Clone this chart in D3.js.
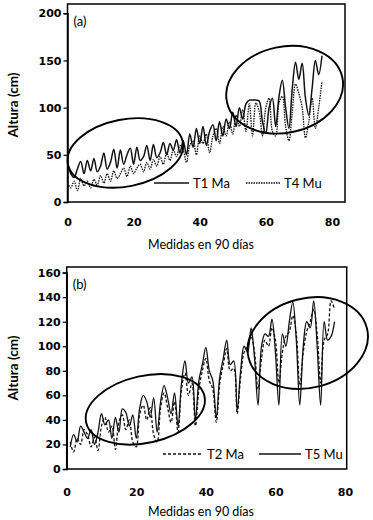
<!DOCTYPE html>
<html>
<head>
<meta charset="utf-8">
<script src="https://cdn.jsdelivr.net/npm/d3@7"></script>
<style>
  body { margin: 0; background: #fff; }
  svg { display: block; }
</style>
</head>
<body>
<div id="chart"></div>
<script>
// panel (a): measurement index 0..77
const aDays = d3.range(0, 78);
const aT1Ma = [43, 30, 26, 35, 43, 30, 44, 33, 46, 32, 38, 52, 35, 42, 56, 36, 55, 40, 50, 57,
  40, 58, 44, 48, 60, 44, 61, 47, 52, 63, 50, 62, 55, 66, 52, 65, 50, 72, 58, 78,
  62, 80, 60, 75, 82, 65, 85, 70, 88, 78, 95, 80, 100, 88, 104, 108, 108, 108, 107, 85,
  73, 100, 110, 80, 112, 129, 100, 78, 120, 148, 130, 147, 110, 92, 120, 150, 135, 155];
const aT4Mu = [20, 15, 22, 12, 25, 17, 22, 15, 24, 18, 28, 20, 30, 22, 33, 25, 30, 36, 27, 38,
  30, 36, 40, 32, 42, 35, 45, 38, 48, 40, 52, 44, 55, 48, 60, 55, 42, 60, 65, 50,
  70, 62, 72, 52, 70, 78, 62, 80, 70, 85, 72, 92, 80, 98, 75, 104, 70, 105, 96, 70,
  100, 110, 75, 70, 105, 112, 80, 65, 95, 125, 115, 100, 68, 85, 110, 78, 100, 128];

// panel (b): measurement index 1..77
const bDays = d3.range(1, 78);
const bT2Ma = [22, 14, 25, 20, 32, 28, 18, 26, 15, 35, 42, 30, 35, 16, 38, 44, 32, 40, 22, 18,
  45, 52, 40, 50, 28, 22, 50, 62, 50, 38, 55, 30, 65, 78, 60, 70, 35, 65, 80, 90,
  72, 65, 38, 70, 85, 98, 80, 82, 45, 75, 95, 100, 108, 95, 65, 90, 105, 100, 115, 105,
  70, 95, 108, 112, 125, 110, 68, 95, 112, 120, 130, 110, 70, 105, 110, 137, 130];
const bT5Mu = [18, 28, 22, 35, 30, 25, 32, 20, 30, 45, 36, 40, 25, 42, 30, 49, 46, 35, 44, 25,
  50, 60, 55, 42, 58, 30, 55, 68, 58, 45, 62, 35, 70, 88, 70, 75, 40, 72, 85, 99,
  80, 72, 42, 75, 90, 105, 85, 88, 48, 80, 100, 95, 115, 90, 52, 100, 110, 108, 122, 95,
  52, 110, 100, 120, 136, 105, 52, 100, 120, 115, 137, 100, 52, 120, 105, 108, 120];

const aTicksY = [0, 50, 100, 150, 200];
const bTicksY = [0, 20, 40, 60, 80, 100, 120, 140, 160];
const ticksX = [0, 20, 40, 60, 80];

// circled regions, centre in data units
const aRings = [{ x: 17.5, y: 52, rx: 58.5, ry: 33.5, rot: -11 }, { x: 65.7, y: 119, rx: 59, ry: 43, rot: -12 }];
const bRings = [{ x: 22.6, y: 48.6, rx: 60.6, ry: 33.5, rot: -12.7 }, { x: 69.3, y: 102.6, rx: 61, ry: 44.7, rot: -14.3 }];

const W = 373, H = 520;
const svg = d3.select("#chart").append("svg").attr("width", W).attr("height", H);

function drawPanel(p) {
    const g = svg.append("g");
    const x = d3.scaleLinear().domain([0, 80]).range(p.xr);
    const y = d3.scaleLinear().domain([0, p.yMax]).range(p.yr);

    // plot box
    g.append("rect")
        .attr("x", p.xr[0]).attr("y", p.boxTop)
        .attr("width", p.boxRight - p.xr[0]).attr("height", p.yr[0] - p.boxTop)
        .attr("fill", "none").attr("stroke", "#000").attr("stroke-width", 1.5);

    const yAxis = g.append("g")
        .attr("transform", `translate(${p.xr[0]},0)`)
        .call(d3.axisLeft(y).tickValues(p.yTicks).tickSize(4).tickPadding(2));
    yAxis.select(".domain").attr("stroke-width", 1.5);
    yAxis.selectAll("line").attr("stroke-width", 1.2);
    yAxis.selectAll("text")
        .style("font-family", "DejaVu Sans").style("font-weight", "bold").style("font-size", "11px");

    const xAxis = g.append("g")
        .attr("transform", `translate(0,${p.yr[0]})`)
        .call(d3.axisBottom(x).tickValues(ticksX).tickSize(0).tickPadding(p.xPad));
    xAxis.select(".domain").remove();
    xAxis.selectAll("text")
        .style("font-family", "DejaVu Sans").style("font-weight", "bold").style("font-size", "11px");

    const line = d3.line().x(d => x(d[0])).y(d => y(d[1])).curve(d3.curveCatmullRom.alpha(0.5));

    p.series.forEach(s => {
        g.append("path")
            .datum(p.days.map((d, i) => [d, s.values[i]]))
            .attr("d", line)
            .attr("fill", "none")
            .attr("stroke", "#111")
            .attr("stroke-width", s.width)
            .attr("stroke-dasharray", s.dash);
    });

    p.rings.forEach(r => {
        g.append("ellipse")
            .attr("cx", 0).attr("cy", 0)
            .attr("rx", r.rx).attr("ry", r.ry)
            .attr("transform", `translate(${x(r.x)},${y(r.y)}) rotate(${r.rot})`)
            .attr("fill", "none").attr("stroke", "#000").attr("stroke-width", 1.9);
    });

    // legend
    p.series.forEach(s => {
        g.append("line")
            .attr("x1", s.lx).attr("x2", s.lx + s.lw)
            .attr("y1", p.legY).attr("y2", p.legY)
            .attr("stroke", "#111").attr("stroke-width", s.width)
            .attr("stroke-dasharray", s.dash);
        g.append("text")
            .attr("x", s.lx + s.lw + 4).attr("y", p.legY + 4.5)
            .style("font-family", "Lato").style("font-size", "13px")
            .text(s.name);
    });

    g.append("text")
        .attr("x", p.xr[0] + 6).attr("y", p.boxTop + 22)
        .style("font-family", "Lato").style("font-size", "13px")
        .text(p.tag);

    g.append("text")
        .attr("transform", `translate(18,${p.yTitle}) rotate(-90)`)
        .attr("text-anchor", "middle")
        .style("font-family", "Lato").style("font-weight", "bold").style("font-size", "13.5px")
        .text("Altura (cm)");

    g.append("text")
        .attr("x", 201).attr("y", p.xTitle)
        .attr("text-anchor", "middle")
        .style("font-family", "Lato").style("font-size", "12.5px")
        .text("Medidas en 90 días");
}

drawPanel({
    tag: "(a)", days: aDays, yMax: 200, yTicks: aTicksY,
    xr: [67.5, 331.9], yr: [202, 13.3], boxTop: 4, boxRight: 345,
    xPad: 16, xTitle: 249, yTitle: 105, legY: 183, rings: aRings,
    series: [
        { name: "T1 Ma", values: aT1Ma, dash: null, width: 1.5, lx: 154, lw: 35 },
        { name: "T4 Mu", values: aT4Mu, dash: "1.5,1", width: 1.3, lx: 246, lw: 34 }
    ]
});

drawPanel({
    tag: "(b)", days: bDays, yMax: 160, yTicks: bTicksY,
    xr: [66.7, 345], yr: [469, 272.6], boxTop: 267, boxRight: 346.7,
    xPad: 19.5, xTitle: 516, yTitle: 368, legY: 454, rings: bRings,
    series: [
        { name: "T2 Ma", values: bT2Ma, dash: "3,2", width: 1.3, lx: 163, lw: 40 },
        { name: "T5 Mu", values: bT5Mu, dash: null, width: 1.3, lx: 259, lw: 42 }
    ]
});
</script>
</body>
</html>
